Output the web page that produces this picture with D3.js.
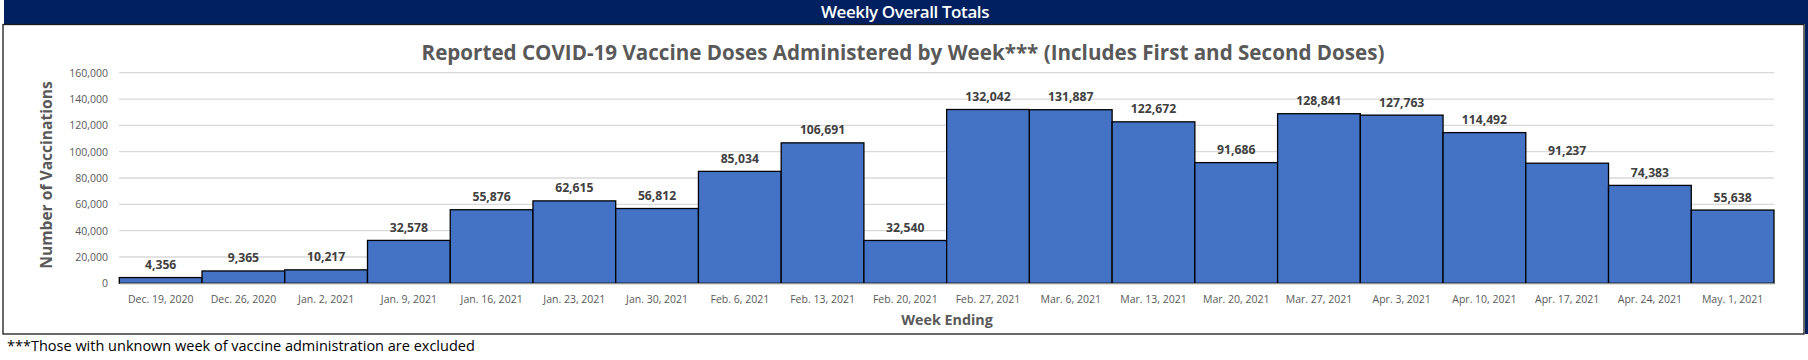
<!DOCTYPE html>
<html><head><meta charset="utf-8">
<script src="https://cdn.jsdelivr.net/npm/d3@7"></script>
<style>
html,body{margin:0;padding:0;background:#fff;}
svg{display:block;}
</style></head>
<body>
<svg id="c" width="1808" height="360"></svg>
<script>
const categories = ["Dec. 19, 2020","Dec. 26, 2020","Jan. 2, 2021","Jan. 9, 2021","Jan. 16, 2021","Jan. 23, 2021","Jan. 30, 2021","Feb. 6, 2021","Feb. 13, 2021","Feb. 20, 2021","Feb. 27, 2021","Mar. 6, 2021","Mar. 13, 2021","Mar. 20, 2021","Mar. 27, 2021","Apr. 3, 2021","Apr. 10, 2021","Apr. 17, 2021","Apr. 24, 2021","May. 1, 2021"];
const doses = [4356,9365,10217,32578,55876,62615,56812,85034,106691,32540,132042,131887,122672,91686,128841,127763,114492,91237,74383,55638];
const yTicks = [0,20000,40000,60000,80000,100000,120000,140000,160000];
const headerText = "Weekly Overall Totals";
const titleText = "Reported COVID-19 Vaccine Doses Administered by Week*** (Includes First and Second Doses)";
const xTitle = "Week Ending";
const yTitle = "Number of Vaccinations";
const footnote = "***Those with unknown week of vaccine administration are excluded";

const svg = d3.select("#c");
const F = "'Open Sans', 'Noto Sans', sans-serif";

// header bar
svg.append("rect").attr("x",4).attr("y",0).attr("width",1804).attr("height",24).attr("fill","#002060");
svg.append("rect").attr("x",1805).attr("y",24).attr("width",3).attr("height",310).attr("fill","#002060");
svg.append("text").attr("x",905).attr("y",18).attr("text-anchor","middle")
  .attr("font-family",F).attr("font-weight",600).attr("font-size",17).attr("fill","#fff")
  .attr("letter-spacing",-0.4).text(headerText);

// chart box
svg.append("rect").attr("x",3).attr("y",24.5).attr("width",1801).attr("height",309.5)
  .attr("fill","#fff").attr("stroke","#1a1a1a").attr("stroke-width",1.3);

const x = d3.scaleBand().domain(categories).range([119.3,1774]).paddingInner(0).paddingOuter(0);
const y = d3.scaleLinear().domain([0,160000]).range([283.3,72.7]);

// gridlines
svg.append("g").selectAll("line").data(yTicks.slice(1)).join("line")
  .attr("x1",119).attr("x2",1774).attr("y1",d=>y(d)).attr("y2",d=>y(d))
  .attr("stroke","#d9d9d9").attr("stroke-width",1.3);

// y axis labels
const yAxis = d3.axisLeft(y).tickValues(yTicks).tickSize(0).tickPadding(11)
  .tickFormat(d3.format(","));
const gy = svg.append("g").attr("transform","translate(119,0)").call(yAxis);
gy.select(".domain").remove();
gy.selectAll("text").attr("font-family",F).attr("font-size",10.5).attr("fill","#595959");

// bars
svg.append("g").selectAll("rect").data(doses).join("rect")
  .attr("x",(d,i)=>x(categories[i])).attr("width",x.bandwidth())
  .attr("y",d=>y(d)).attr("height",d=>y(0)-y(d))
  .attr("fill","#4472C4").attr("stroke","#000").attr("stroke-width",1.3);

// x axis
const xAxis = d3.axisBottom(x).tickSize(0).tickPadding(12);
const gx = svg.append("g").attr("transform",`translate(0,${y(0)})`).call(xAxis);
gx.select(".domain").attr("stroke","#bfbfbf").attr("stroke-width",1.3);
gx.selectAll("text").attr("font-family",F).attr("font-size",10.5).attr("fill","#595959");

// value labels
svg.append("g").selectAll("text").data(doses).join("text")
  .attr("x",(d,i)=>x(categories[i])+x.bandwidth()/2).attr("y",d=>y(d)-8.5)
  .attr("text-anchor","middle").attr("font-family",F).attr("font-weight",700)
  .attr("font-size",12.2).attr("fill","#404040").text(d=>d3.format(",")(d));

// titles
svg.append("text").attr("x",903).attr("y",60).attr("text-anchor","middle")
  .attr("font-family",F).attr("font-weight",700).attr("font-size",20.6).attr("fill","#595959")
  .text(titleText);
svg.append("text").attr("x",947).attr("y",325).attr("text-anchor","middle")
  .attr("font-family",F).attr("font-weight",700).attr("font-size",14.3).attr("fill","#595959")
  .text(xTitle);
svg.append("text").attr("transform","translate(52,175) rotate(-90)").attr("text-anchor","middle")
  .attr("font-family",F).attr("font-weight",700).attr("font-size",15.6).attr("fill","#595959")
  .text(yTitle);

// footnote
svg.append("text").attr("x",7).attr("y",351).attr("font-family",F).attr("font-size",14.5)
  .attr("fill","#000").text(footnote);
</script>
</body></html>
